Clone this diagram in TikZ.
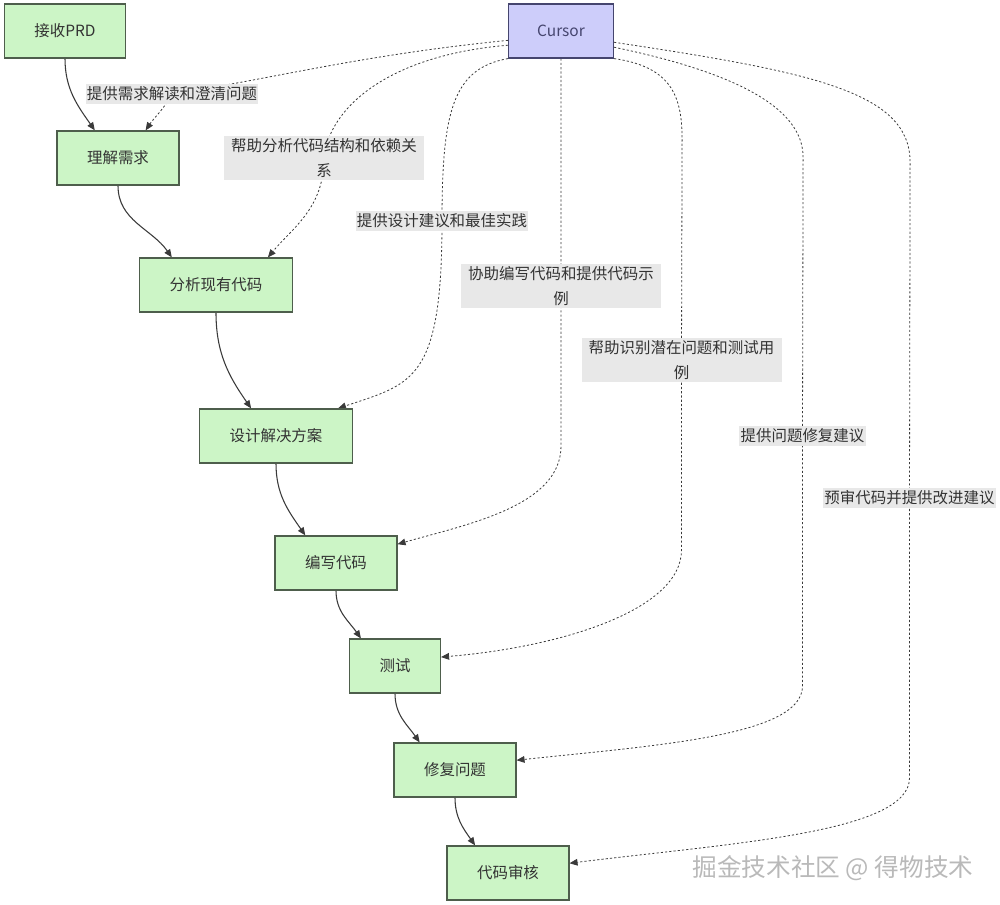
\documentclass[tikz,border=0pt]{standalone}
\usepackage{fontspec}
\setmainfont{Noto Sans CJK SC}
\usepackage{xcolor}
\usepackage{tikz}
\usetikzlibrary{arrows.meta}
\usetikzlibrary{backgrounds}
\definecolor{stagefill}{HTML}{CCF5C6}
\definecolor{stageline}{HTML}{4E5E4C}
\definecolor{toolfill}{HTML}{CDCDFA}
\definecolor{toolline}{HTML}{45456E}
\definecolor{hintfill}{HTML}{E8E8E8}
\definecolor{inktext}{HTML}{333333}
\definecolor{linkgray}{HTML}{3A3A3A}
\newcommand{\nodefont}{\fontsize{11.6pt}{18.4pt}\selectfont}
\tikzstyle{stage}=[rectangle,draw=stageline,fill=stagefill,line width=0.9pt,inner xsep=22.5pt,minimum height=40.5pt,text=inktext,font=\nodefont]
\tikzstyle{tool}=[rectangle,draw=toolline,fill=toolfill,line width=0.9pt,inner xsep=5pt,minimum width=78.75pt,minimum height=40.5pt,text=toolline,font=\nodefont]
\tikzstyle{hint}=[rectangle,fill=hintfill,inner xsep=1pt,inner ysep=2pt,text=inktext,font=\nodefont,align=center]
\tikzstyle{flow}=[line width=0.8pt,draw=linkgray,-{Triangle[length=6pt,width=5pt]},out=-90,in=125]
\tikzstyle{helps}=[line width=0.6pt,draw=linkgray,dash pattern=on 1.6pt off 1.6pt,-{Triangle[length=6pt,width=5pt]}]

\begin{document}
\begin{tikzpicture}[x=0.75pt,y=-0.75pt]
\useasboundingbox (0,0) rectangle (1000,905);

%steps
\node[stage] (prd) at (65,31) {接收PRD};
\node[tool] (cursor) at (561,31) {Cursor};
\node[stage] (understand) at (118,158) {理解需求};
\node[stage] (analyze) at (216,285) {分析现有代码};
\node[stage] (design) at (276,436) {设计解决方案};
\node[stage] (code) at (336,563) {编写代码};
\node[stage] (test) at (395,666) {测试};
\node[stage] (fix) at (455,770) {修复问题};
\node[stage] (review) at (508,873) {代码审核};

%hints on the cursor links
\node[hint] (h1) at (172,94) {提供需求解读和澄清问题};
\node[hint,text width=148pt] (h2) at (324,158) {帮助分析代码结构和依赖关\\系};
\node[hint] (h3) at (442,221) {提供设计建议和最佳实践};
\node[hint,text width=148pt] (h4) at (561,286) {协助编写代码和提供代码示\\例};
\node[hint,text width=148pt] (h5) at (681.5,360) {帮助识别潜在问题和测试用\\例};
\node[hint] (h6) at (802.5,436) {提供问题修复建议};
\node[hint] (h7) at (909.5,498) {预审代码并提供改进建议};

%watermark
\node[text=gray!55,font=\fontsize{18.5pt}{22pt}\selectfont] (mark) at (833,868) {掘金技术社区 @ 得物技术};

\begin{scope}[on background layer]
%main flow
\foreach \a/\b/\c in {prd/understand/130, understand/analyze/148, analyze/design/132, design/code/138, code/test/141, test/fix/142, fix/review/140} {
\draw[flow] (\a.south) to (\b.\c);
}

%cursor links
\draw[helps] (cursor.190) .. controls +(-150,15) and +(100,-15) .. (h1.center) .. controls +(-8,15) and +(8,-12) .. (understand.45);
\draw[helps] (cursor.195) .. controls +(-120,10) and +(5,-50) .. (h2.center) .. controls +(0,50) and +(25,-30) .. (analyze.28);
\draw[helps] (cursor.south west) .. controls +(-55,10) and +(0,-110) .. (h3.center) .. controls +(0,160) and +(75,-25) .. (design.24);
\draw[helps] (cursor.south) -- (h4.center) -- ++(0,160) .. controls +(0,60) and +(70,-20) .. (code.17);
\draw[helps] (cursor.south east) .. controls +(55,8) and +(0,-45) .. +(68,80) -- (h5.center) -- ++(0,190) .. controls +(0,60) and +(120,-10) .. (test.11);
\draw[helps] (cursor.-17) .. controls +(120,25) and +(0,-50) .. +(189,110) -- (h6.center) -- ++(0,250) .. controls +(0,50) and +(140,-15) .. (fix.9);
\draw[helps] (cursor.-12) .. controls +(200,30) and +(0,-70) .. +(296,120) -- (h7.center) -- ++(0,280) .. controls +(0,55) and +(160,-20) .. (review.9);
\end{scope}

\end{tikzpicture}
\end{document}
